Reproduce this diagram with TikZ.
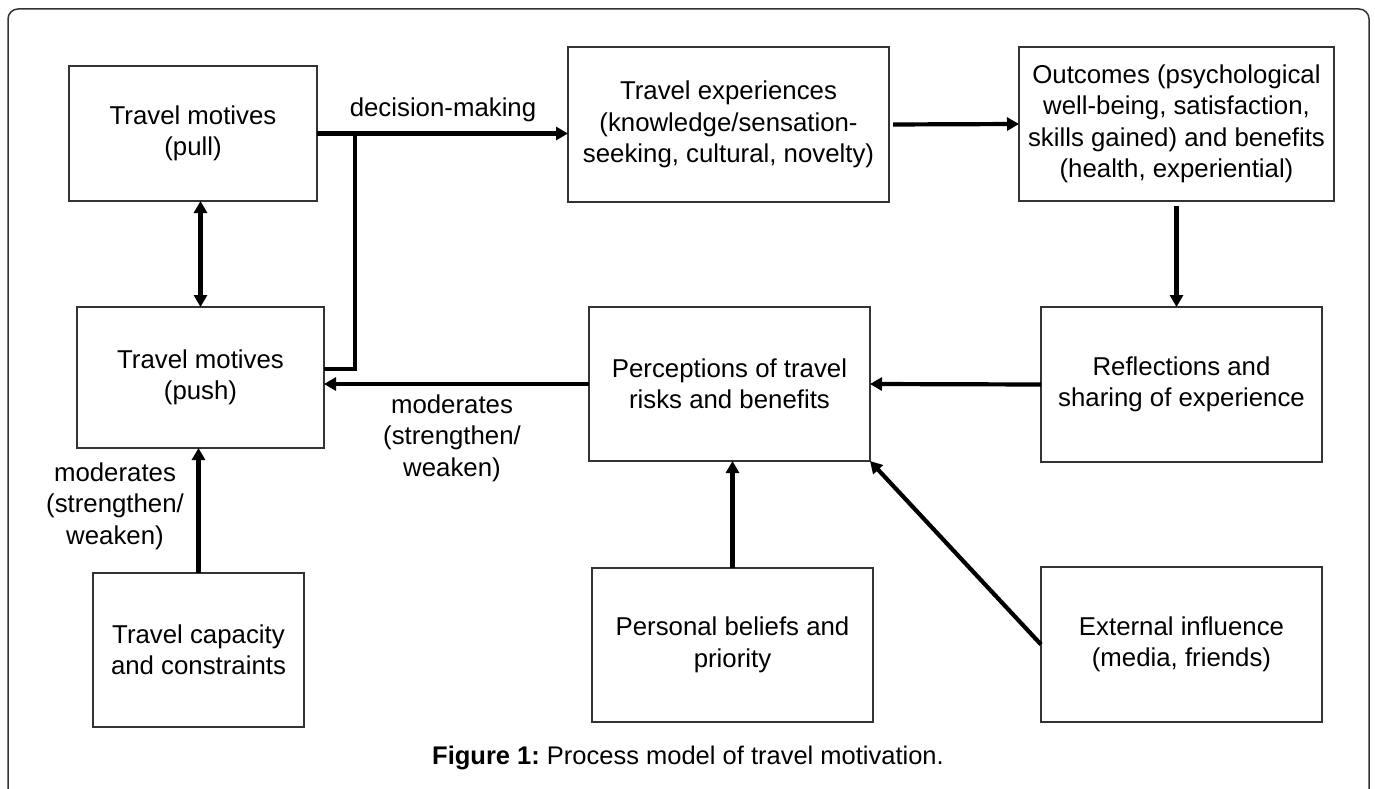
\documentclass[tikz,border=0pt]{standalone}
\usepackage{fontspec}
\setmainfont{Liberation Sans}
\usetikzlibrary{arrows.meta}
\frenchspacing
\begin{document}
\begin{tikzpicture}[x=1pt,y=-1pt,
  box/.style={draw=black!80,line width=1.5pt,inner sep=0pt,outer sep=0pt,align=center,
    font=\fontsize{25.8}{31.5}\selectfont},
  lbl/.style={align=center,inner sep=0pt,font=\fontsize{25.8}{31.5}\selectfont},
  conn/.style={line width=4.2pt,-{Triangle[length=12pt,width=13pt]}},
  dconn/.style={line width=4.2pt,{Triangle[length=12pt,width=13pt]}-{Triangle[length=12pt,width=13pt]}},
  plainline/.style={line width=4.2pt}]
\useasboundingbox (0,0) rectangle (1375,789);
\begin{scope}
\clip (0,0) rectangle (1375,789);
\draw[black!80,line width=1.5pt,rounded corners=10pt] (8,9) rectangle (1369,820);
\end{scope}
\node[box,minimum width=248pt,minimum height=135pt] (pull) at (193,133.5) {Travel motives\\(pull)};
\node[box,minimum width=247pt,minimum height=141pt] (push) at (200.5,377.5) {Travel motives\\(push)};
\node[box,minimum width=321pt,minimum height=155pt] (exp) at (728.5,124.5) {Travel experiences\\(knowledge/sensation-\\seeking, cultural, novelty)};
\node[box,minimum width=315pt,minimum height=154pt] (out) at (1176.5,124) {Outcomes (psychological\\well-being, satisfaction,\\skills gained) and benefits\\(health, experiential)};
\node[box,minimum width=281pt,minimum height=155pt] (refl) at (1181.5,384.5) {Reflections and\\sharing of experience};
\node[box,minimum width=281pt,minimum height=154pt] (perc) at (729.5,384) {Perceptions of travel\\risks and benefits};
\node[box,minimum width=281pt,minimum height=154pt] (pers) at (732.5,645) {Personal beliefs and\\priority};
\node[box,minimum width=281pt,minimum height=155pt] (ext) at (1181.5,644.5) {External influence\\(media, friends)};
\node[box,minimum width=211pt,minimum height=154pt] (cap) at (198.5,650) {Travel capacity\\and constraints};
% connectors
\draw[dconn] (pull.south -| push.north) -- (push.north);
\draw[conn] (pull.east) -- (pull.east -| exp.west);
\coordinate (j) at (355,133.5);
\coordinate (k) at (355,369);
\draw[plainline] (j) -- (k) -- (k -| push.east);
\draw[conn,shorten <=4pt] (exp.east) -- (out.west);
\draw[conn,shorten <=5pt] (out.south) -- (refl.north -| out.south);
\draw[conn] (refl.west) -- (perc.east);
\draw[conn] (perc.west) -- (perc.west -| push.east);
\draw[conn] (pers.north) -- (pers.north |- perc.south);
\draw[conn] (ext.west) -- (perc.south east);
\draw[conn] (cap.north) -- (cap.north |- push.south);
% labels
\node[lbl] (dm) at (443,110) {decision-making};
\node[lbl] (m1) at (452,438) {moderates\\(strengthen/\\weaken)};
\node[lbl] (m2) at (115,506) {moderates\\(strengthen/\\weaken)};
\node[lbl,font=\fontsize{25.5}{30}\selectfont] (cap1) at (688,758) {\textbf{Figure 1:} Process model of travel motivation.};
\end{tikzpicture}
\end{document}
